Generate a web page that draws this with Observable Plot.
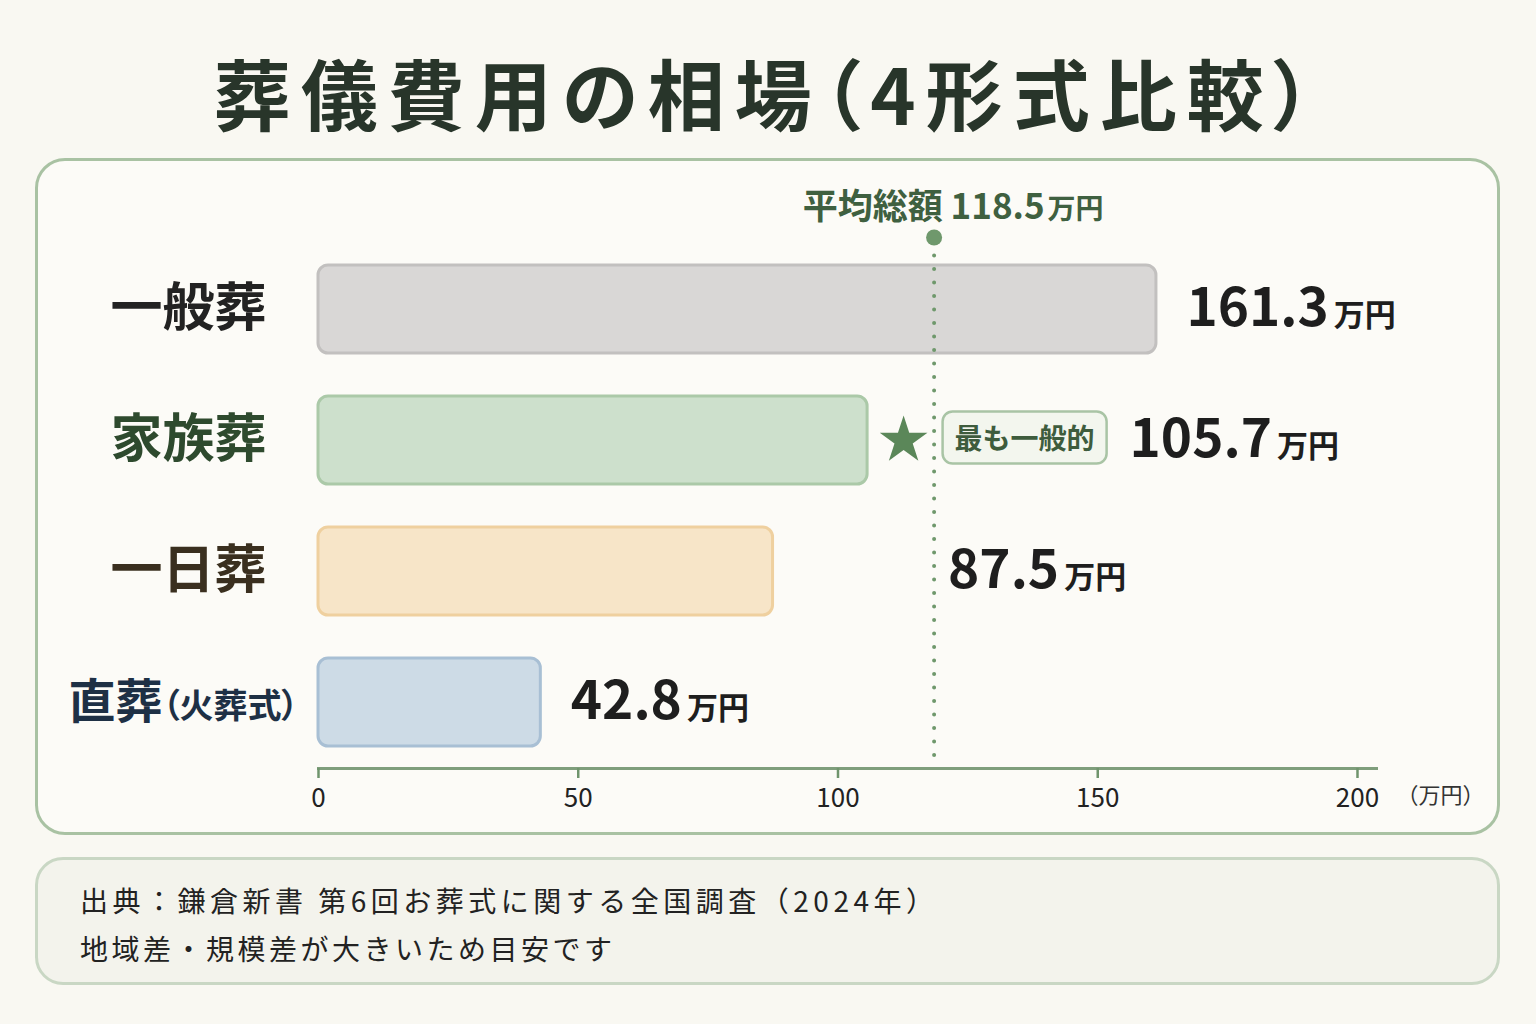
<!DOCTYPE html>
<html lang="ja">
<head>
<meta charset="utf-8">
<script src="https://cdn.jsdelivr.net/npm/d3@7"></script>
<script src="https://cdn.jsdelivr.net/npm/@observablehq/plot@0.6"></script>
<style>
  html, body { margin: 0; padding: 0; background: #f9f8f2; }
  body { font-family: "Noto Sans CJK JP", "Noto Sans", sans-serif; }
  #page { position: relative; width: 1536px; height: 1024px; overflow: hidden; background: #f9f8f2; }
  #title { position: absolute; left: 0; top: 42px; width: 1536px; text-align: center;
           font-size: 77px; font-weight: 700; color: #28352a; letter-spacing: 10px;
           font-feature-settings: "palt"; line-height: 100px; white-space: nowrap; }
  #panel { position: absolute; left: 35px; top: 158px; width: 1465px; height: 677px; box-sizing: border-box;
           border: 3px solid #a9c2a3; border-radius: 30px; background: #fcfbf7; }
  #chart { position: absolute; left: 0; top: 158px; width: 1536px; height: 677px; }
  #foot { position: absolute; left: 35px; top: 857px; width: 1465px; height: 128px; box-sizing: border-box;
          border: 3px solid #c9d7c4; border-radius: 28px; background: #f3f3ec;
          padding: 16px 0 0 42px; font-size: 28px; line-height: 48px; color: #222; }
  #foot .l1 { letter-spacing: 4.5px; }
  #foot .l2 { letter-spacing: 3.5px; }
</style>
</head>
<body>
<div id="page">
  <div id="title">葬儀費用の相場（4形式比較）</div>
  <div id="panel"></div>
  <div id="chart"></div>
  <div id="foot">
    <div class="l1">出典：鎌倉新書 第6回お葬式に関する全国調査（2024年）</div>
    <div class="l2">地域差・規模差が大きいため目安です</div>
  </div>
</div>
<script>
// ---- data ----
const categories = ["一般葬", "家族葬", "一日葬", "直葬"];
const costs = [161.3, 105.7, 87.5, 42.8];            // 万円
const subLabels = ["", "", "", "（火葬式）"];
const averageCost = 118.5;                            // 平均総額
const averageLabel = "平均総額";
const xTicks = [0, 50, 100, 150, 200];
const unitLabel = "（万円）";
const valueUnit = "万円";
const highlightCategory = "家族葬";
const badgeText = "最も一般的";

// ---- styles ----
const barFills   = ["#d9d7d6", "#cde0cc", "#f7e5c8", "#cddbe6"];
const barStrokes = ["#c2c0bf", "#abc9a8", "#efd09f", "#a8bfd4"];
const labelColors = ["#222222", "#2e4a2e", "#3a2f1f", "#1e3045"];

function render() {
  const fmt = d3.format(".1f");
  const rows = categories.map((name, i) => ({
    name, value: costs[i], sub: subLabels[i],
    fill: barFills[i], stroke: barStrokes[i], labelColor: labelColors[i]
  }));
  const normal = rows.filter(d => d.name !== highlightCategory);
  const nearAvg = d => d.value < averageCost && d.value + 40 > averageCost;
  const normalFar = normal.filter(d => !nearAvg(d));
  const normalNear = normal.filter(d => nearAvg(d));
  const hi = rows.filter(d => d.name === highlightCategory);

  const svg = Plot.plot({
    width: 1536, height: 677,
    marginLeft: 318, marginRight: 160, marginTop: 84, marginBottom: 67,
    style: { background: "transparent", fontFamily: "'Noto Sans CJK JP', 'Noto Sans', sans-serif", overflow: "visible" },
    x: { domain: [0, 203.66], axis: null },
    y: { domain: categories, paddingInner: 0.33, paddingOuter: 0.1675, axis: null },
    color: { type: "identity" },
    marks: [
      Plot.frame({ anchor: "bottom", stroke: "#7f9e7c", strokeWidth: 3 }),
      Plot.axisX({ ticks: xTicks, tickSize: 10, tickPadding: 10, fontSize: 26,
                   stroke: "#6f946c", strokeWidth: 2.5, fill: "#222", tickFormat: d => String(d), label: null }),
      Plot.text([unitLabel], { text: d => d, frameAnchor: "bottom-right", lineAnchor: "middle", dx: 64, dy: 27,
                   textAnchor: "middle", fontSize: 22, fill: "#333" }),
      Plot.barX(rows, { x: "value", y: "name", fill: "fill", stroke: "stroke", strokeWidth: 3, rx: 10 }),
      Plot.ruleX([averageCost], { x: d => d, stroke: "#6f986c", strokeWidth: 4,
                   strokeDasharray: "0,13.5", strokeLinecap: "round" }),
      Plot.dot([averageCost], { x: d => d, frameAnchor: "top", dy: -5, r: 8, fill: "#6f986c" }),
      Plot.text([averageCost], { x: d => d, text: d => averageLabel + " " + fmt(d), frameAnchor: "top",
                   lineAnchor: "middle", dy: -35, dx: 19, textAnchor: "middle", fontSize: 35, fontWeight: 700,
                   fill: "#3f6040", ariaDescription: "avg-label" }),
      // category labels
      Plot.text(rows.filter(d => !d.sub), { y: "name", text: "name", frameAnchor: "left", dx: -130,
                   textAnchor: "middle", fontSize: 52, fontWeight: 700, fill: "labelColor" }),
      Plot.text(rows.filter(d => d.sub), { y: "name", text: "name", frameAnchor: "left", dx: -135,
                   textAnchor: "middle", fontSize: 47, fontWeight: 700, fill: "labelColor",
                   ariaDescription: "cat-sub" }),
      // value labels
      Plot.text(normalFar, { x: "value", y: "name", text: d => fmt(d.value), dx: 30, textAnchor: "start",
                   fontSize: 53, fontWeight: 700, fill: "#1e1e1e", ariaDescription: "value" }),
      Plot.text(normalNear, { x: () => averageCost, y: "name", text: d => fmt(d.value), dx: 14, textAnchor: "start",
                   fontSize: 53, fontWeight: 700, fill: "#1e1e1e", ariaDescription: "value" }),
      Plot.text(hi, { x: "value", y: "name", text: d => fmt(d.value), dx: 262, textAnchor: "start",
                   fontSize: 53, fontWeight: 700, fill: "#1e1e1e", ariaDescription: "value" }),
      // highlight badge
      Plot.dot(hi, { x: "value", y: "name", dx: 36, symbol: "star", r: 15, fill: "#5b8759" }),
      Plot.text(hi, { x: "value", y: "name", text: () => badgeText, dx: 157, textAnchor: "middle",
                   fontSize: 28, fontWeight: 700, fill: "#3e5c3d", ariaDescription: "badge" })
    ]
  });

  document.getElementById("chart").appendChild(svg);
  const root = d3.select(svg);

  // unit suffixes on value labels
  root.selectAll('g[aria-description="value"] text').each(function () {
    d3.select(this).append("tspan").attr("font-size", 31).attr("dx", 5).text(valueUnit);
  });
  root.selectAll('g[aria-description="avg-label"] text').each(function () {
    d3.select(this).append("tspan").attr("font-size", 28).attr("dx", 3).text(valueUnit);
  });
  root.selectAll('g[aria-description="cat-sub"] text').each(function () {
    const name = this.textContent;
    const sub = subLabels[categories.indexOf(name)];
    d3.select(this).append("tspan").attr("font-size", 34).attr("dx", 0)
      .style("font-feature-settings", '"palt"').text(sub);
  });
  // badge box behind the badge text
  root.selectAll('g[aria-description="badge"] text').each(function () {
    const bb = this.getBBox();
    const t = this.getAttribute("transform");
    const cy = bb.y + bb.height / 2;
    const r = d3.select(this.parentNode).insert("rect", () => this)
      .attr("x", bb.x - 12).attr("y", cy - 26)
      .attr("width", bb.width + 24).attr("height", 52)
      .attr("rx", 10).attr("fill", "#f3f6ee").attr("stroke", "#a9c4a5").attr("stroke-width", 2.5);
    if (t) r.attr("transform", t);
  });
}

if (document.fonts && document.fonts.ready) document.fonts.ready.then(render); else render();
</script>
</body>
</html>
